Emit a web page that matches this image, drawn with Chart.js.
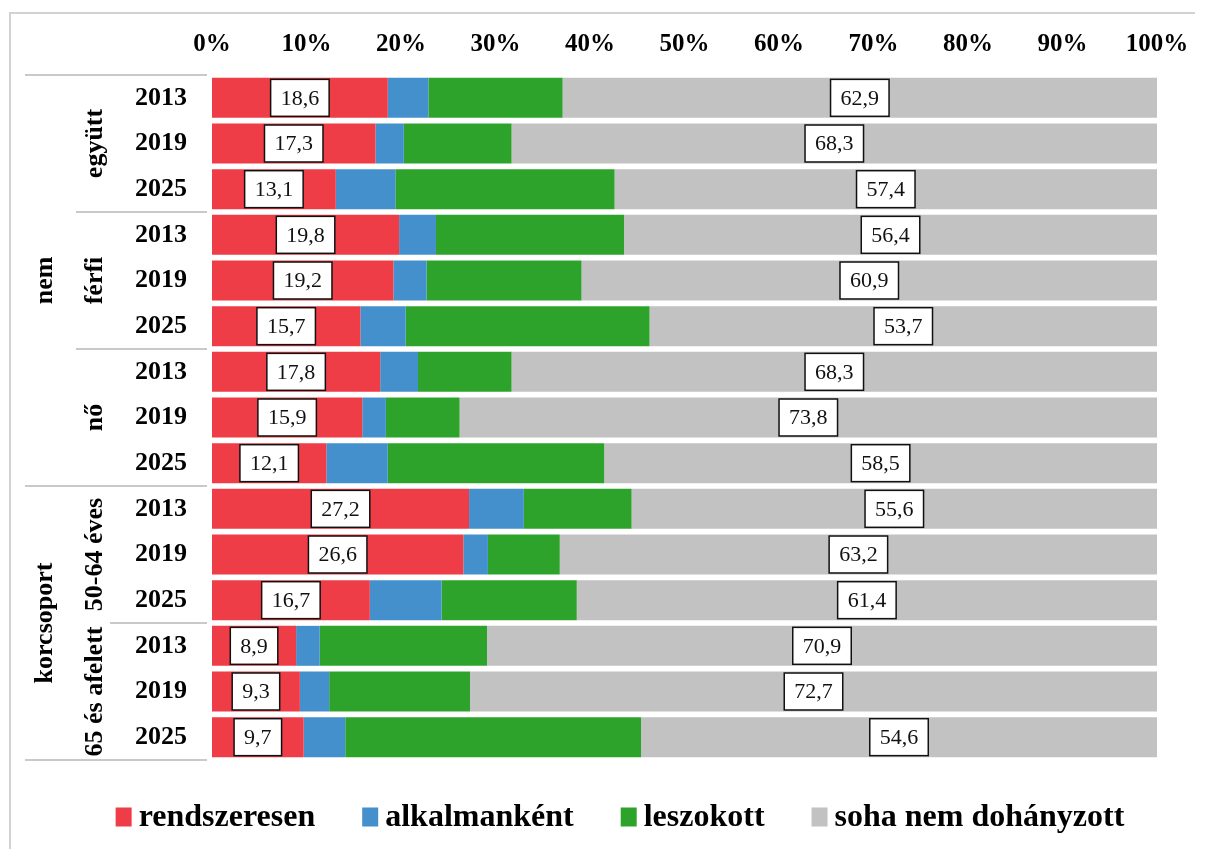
<!DOCTYPE html>
<html lang="hu">
<head>
<meta charset="utf-8">
<title>Dohányzási szokások</title>
<script src="https://cdn.jsdelivr.net/npm/chart.js@4.4.1/dist/chart.umd.min.js"></script>
<style>
  html, body { margin: 0; padding: 0; background: #fff; }
  #wrap { width: 1205px; height: 849px; position: relative; }
</style>
</head>
<body>
<div id="wrap"><canvas id="c"></canvas></div>
<script>
// Row labels (years), grouped by subgroup and main group
const categories = ['2013', '2019', '2025', '2013', '2019', '2025', '2013', '2019', '2025',
                    '2013', '2019', '2025', '2013', '2019', '2025'];
const subgroups = ['együtt', 'férfi', 'nő', '50-64 éves', '65 és afelett'];
const subgroupRows = [3, 3, 3, 3, 3];
const maingroups = ['nem', 'korcsoport'];
const maingroupSubgroups = [3, 2];

// Percent axis
const xTickValues = [0, 10, 20, 30, 40, 50, 60, 70, 80, 90, 100];

// Series values (%)
const rendszeresen = [18.6, 17.3, 13.1, 19.8, 19.2, 15.7, 17.8, 15.9, 12.1, 27.2, 26.6, 16.7, 8.9, 9.3, 9.7];
const alkalmankent = [4.3, 3.0, 6.3, 3.9, 3.5, 4.8, 4.0, 2.5, 6.5, 5.8, 2.6, 7.6, 2.5, 3.1, 4.4];
const leszokott    = [14.2, 11.4, 23.2, 19.9, 16.4, 25.8, 9.9, 7.8, 22.9, 11.4, 7.6, 14.3, 17.7, 14.9, 31.3];
const sohaNem      = [62.9, 68.3, 57.4, 56.4, 60.9, 53.7, 68.3, 73.8, 58.5, 55.6, 63.2, 61.4, 70.9, 72.7, 54.6];

const seriesNames = ['rendszeresen', 'alkalmanként', 'leszokott', 'soha nem dohányzott'];
const seriesColors = ['#ee3d47', '#4390cc', '#2ea32c', '#c2c2c2'];
const labelledSeries = [0, 3];

const SERIF = "'Liberation Serif', 'Times New Roman', serif";
const AREA = { left: 212, right: 1157, top: 75, bottom: 760 };

const fmt = v => v.toFixed(1).replace('.', ',');

// White page with a thin light frame
const framePlugin = {
  id: 'frame',
  beforeDraw(chart) {
    const ctx = chart.ctx;
    ctx.save();
    ctx.fillStyle = '#ffffff';
    ctx.fillRect(0, 0, chart.width, chart.height);
    ctx.strokeStyle = '#d2d2d2';
    ctx.lineWidth = 2;
    ctx.beginPath();
    ctx.moveTo(10, 860);
    ctx.lineTo(10, 13);
    ctx.lineTo(1195, 13);
    ctx.stroke();
    ctx.restore();
  }
};

// Boxed value labels centred on the labelled segments
const valueLabelPlugin = {
  id: 'valueLabels',
  afterDatasetsDraw(chart) {
    const ctx = chart.ctx;
    ctx.save();
    ctx.font = '22px ' + SERIF;
    ctx.textAlign = 'center';
    ctx.textBaseline = 'middle';
    labelledSeries.forEach(di => {
      const meta = chart.getDatasetMeta(di);
      const data = chart.data.datasets[di].data;
      meta.data.forEach((bar, i) => {
        const p = bar.getProps(['x', 'y', 'base', 'height'], true);
        const cx = (p.x + p.base) / 2;
        const txt = fmt(data[i]);
        const w = ctx.measureText(txt).width + 20;
        const h = p.height - 3;
        ctx.fillStyle = '#ffffff';
        ctx.fillRect(cx - w / 2, p.y - h / 2, w, h);
        ctx.strokeStyle = '#111111';
        ctx.lineWidth = 1.5;
        ctx.strokeRect(cx - w / 2, p.y - h / 2, w, h);
        ctx.fillStyle = '#111111';
        ctx.fillText(txt, cx, p.y + 1);
      });
    });
    ctx.restore();
  }
};

// Group headings and separator lines left of the year labels
const groupPlugin = {
  id: 'groups',
  afterDraw(chart) {
    const ctx = chart.ctx;
    const y = chart.scales.y;
    const rowH = (y.bottom - y.top) / categories.length;
    const edge = k => y.top + k * rowH;
    ctx.save();
    ctx.strokeStyle = '#c9c9c9';
    ctx.lineWidth = 2;
    const line = (x0, k) => {
      ctx.beginPath();
      ctx.moveTo(x0, edge(k));
      ctx.lineTo(207, edge(k));
      ctx.stroke();
    };
    ctx.fillStyle = '#000000';
    ctx.font = 'bold 26px ' + SERIF;
    ctx.textAlign = 'center';
    ctx.textBaseline = 'middle';
    const rotText = (txt, x, yc) => {
      ctx.save();
      ctx.translate(x, yc);
      ctx.rotate(-Math.PI / 2);
      ctx.fillText(txt, 0, 0);
      ctx.restore();
    };
    // subgroups
    let row = 0;
    subgroups.forEach((name, g) => {
      const start = row, end = row + subgroupRows[g];
      rotText(name, 95, (edge(start) + edge(end)) / 2);
      row = end;
    });
    // main groups
    let sg = 0; row = 0;
    line(25, 0);
    maingroups.forEach((name, m) => {
      const startRow = row;
      for (let s = 0; s < maingroupSubgroups[m]; s++) {
        if (s > 0) line(m === 0 ? 76 : 110, row);
        row += subgroupRows[sg + s];
      }
      sg += maingroupSubgroups[m];
      rotText(name, 45, (edge(startRow) + edge(row)) / 2);
      line(25, row);
    });
    ctx.restore();
  }
};

// Legend row along the bottom
const legendPlugin = {
  id: 'bottomLegend',
  afterDraw(chart) {
    const ctx = chart.ctx;
    ctx.save();
    ctx.font = 'bold 32px ' + SERIF;
    ctx.textBaseline = 'middle';
    ctx.textAlign = 'left';
    const boxW = 16, boxH = 19, gap = 7, spacing = 47;
    const widths = seriesNames.map(n => boxW + gap + ctx.measureText(n).width);
    const total = widths.reduce((a, b) => a + b, 0) + spacing * (widths.length - 1);
    let x = 620 - total / 2;
    const yc = 817;
    chart.data.datasets.forEach((ds, i) => {
      ctx.fillStyle = ds.backgroundColor;
      ctx.fillRect(x, yc - boxH / 2, boxW, boxH);
      ctx.fillStyle = '#000000';
      ctx.fillText(ds.label, x + boxW + gap, yc + 1);
      x += widths[i] + spacing;
    });
    ctx.restore();
  }
};

const seriesData = [rendszeresen, alkalmankent, leszokott, sohaNem];

new Chart(document.getElementById('c'), {
  type: 'bar',
  data: {
    labels: categories,
    datasets: seriesData.map((d, i) => ({
      label: seriesNames[i],
      data: d,
      backgroundColor: seriesColors[i],
      borderWidth: 0,
      categoryPercentage: 1,
      barPercentage: 0.875
    }))
  },
  options: {
    indexAxis: 'y',
    responsive: true,
    maintainAspectRatio: false,
    animation: false,
    layout: { padding: { left: 0, top: 0, right: 1205 - AREA.right, bottom: 849 - AREA.bottom } },
    plugins: {
      legend: { display: false },
      tooltip: { enabled: false }
    },
    scales: {
      x: {
        position: 'top',
        stacked: true,
        min: 0,
        max: 100,
        afterFit(scale) { scale.height = AREA.top; },
        afterBuildTicks(scale) { scale.ticks = xTickValues.map(v => ({ value: v })); },
        grid: { display: false, drawTicks: false },
        border: { display: false },
        ticks: {
          padding: 15,
          color: '#000000',
          font: { family: SERIF, size: 25, weight: 'bold' },
          callback: v => v + '%'
        }
      },
      y: {
        stacked: true,
        afterFit(scale) { scale.width = AREA.left; },
        grid: { display: false, drawTicks: false },
        border: { display: false },
        ticks: {
          padding: 25,
          color: '#000000',
          font: { family: SERIF, size: 26, weight: 'bold' }
        }
      }
    }
  },
  plugins: [framePlugin, valueLabelPlugin, groupPlugin, legendPlugin]
});
</script>
</body>
</html>
